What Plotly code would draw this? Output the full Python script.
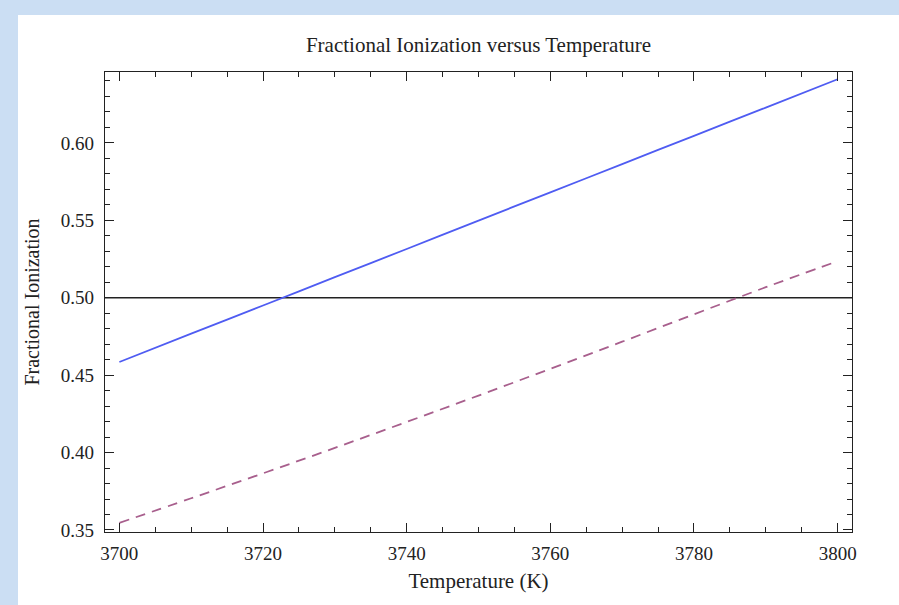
import plotly.graph_objects as go

temperature = [3700, 3710, 3720, 3730, 3740, 3750, 3760, 3770, 3780, 3790, 3800]
ionization_solid = [0.4585, 0.4768, 0.4950, 0.5133, 0.5315, 0.5498, 0.5681, 0.5863, 0.6046, 0.6228, 0.6411]
ionization_dashed = [0.3546, 0.3705, 0.3866, 0.4030, 0.4198, 0.4368, 0.4541, 0.4716, 0.4893, 0.5068, 0.5236]
reference_level = 0.5

x_ticks = [3700, 3720, 3740, 3760, 3780, 3800]
y_ticks = [0.35, 0.40, 0.45, 0.50, 0.55, 0.60]
y_tick_labels = ["0.35", "0.40", "0.45", "0.50", "0.55", "0.60"]

FONT = "Liberation Serif, Times New Roman, serif"

fig = go.Figure()
fig.add_trace(go.Scatter(x=[temperature[0] - 2, temperature[-1] + 2], y=[reference_level, reference_level],
                         mode="lines", line=dict(color="#222222", width=1.3), hoverinfo="skip"))
fig.add_trace(go.Scatter(x=temperature, y=ionization_solid, mode="lines",
                         line=dict(color="#4f5cf2", width=1.8), line_shape="spline"))
fig.add_trace(go.Scatter(x=temperature, y=ionization_dashed, mode="lines",
                         line=dict(color="#a85f8d", width=1.8, dash="10px,7px"), line_shape="spline"))

L, R, T, B = 105, 47, 72, 73
W, H = 899, 605
pw, ph = W - L - R, H - T - B

fig.add_shape(type="rect", xref="paper", yref="paper",
              x0=(18 - L) / pw, x1=1.2, y0=-0.3, y1=(H - B - 15) / ph,
              fillcolor="white", line=dict(width=0), layer="below")

axis_common = dict(showline=True, linecolor="#222222", linewidth=1.3, mirror="ticks",
                   ticks="inside", ticklen=9, tickwidth=1.2, tickcolor="#222222",
                   showgrid=False, zeroline=False,
                   tickfont=dict(family=FONT, size=19, color="#222222"))

fig.update_layout(
    width=W, height=H,
    margin=dict(l=L, r=R, t=T, b=B),
    paper_bgcolor="#cbdef3",
    plot_bgcolor="white",
    showlegend=False,
    title=dict(text="Fractional Ionization versus Temperature", x=(L + pw / 2) / W, xanchor="center",
               y=1 - 45 / H, yanchor="middle",
               font=dict(family=FONT, size=21, color="#222222")),
    xaxis=dict(range=[3698, 3802], tickvals=x_ticks, ticklabelstandoff=4,
               minor=dict(dtick=5, tick0=3700, ticks="inside", ticklen=5, tickwidth=1.1, tickcolor="#222222"),
               title=dict(text="Temperature (K)", font=dict(family=FONT, size=21, color="#222222"), standoff=10),
               **axis_common),
    yaxis=dict(range=[0.3487, 0.6458], tickvals=y_ticks, ticktext=y_tick_labels, ticklabelstandoff=6,
               minor=dict(dtick=0.01, tick0=0.35, ticks="inside", ticklen=5, tickwidth=1.1, tickcolor="#222222"),
               title=dict(text="Fractional Ionization", font=dict(family=FONT, size=20, color="#222222"), standoff=15),
               **axis_common),
)

fig.write_html("out.html", config={"displayModeBar": False},
               post_script="document.body.style.margin='0';document.body.style.overflow='hidden';")
